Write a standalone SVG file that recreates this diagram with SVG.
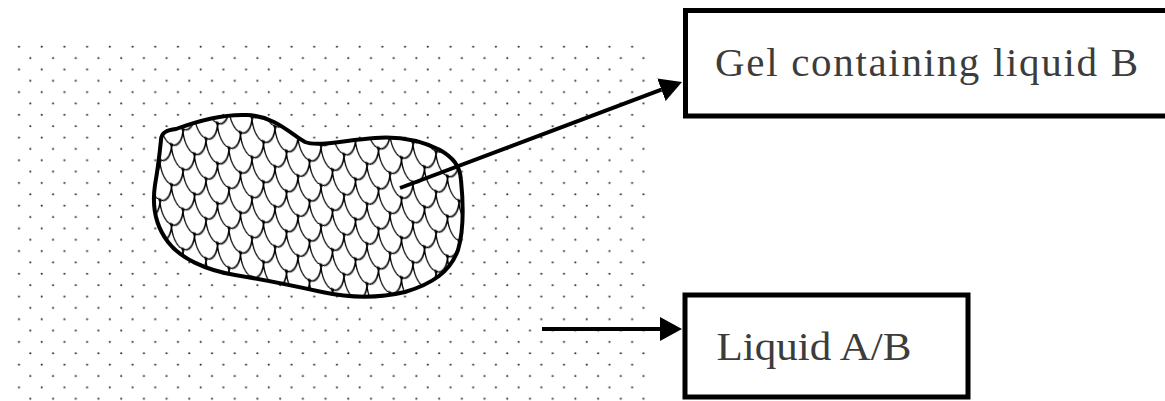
<svg xmlns="http://www.w3.org/2000/svg" width="1165" height="401" viewBox="0 0 1165 401">
  <style>
    .box { fill: #ffffff; stroke: #000000; stroke-width: 5; }
    .label { font-family: "Liberation Serif", "DejaVu Serif", serif; font-size: 41px; fill: #3c3c3c; }
    .conn { stroke: #000000; stroke-width: 4; fill: none; }
  </style>
  <defs>
    <pattern id="dots" patternUnits="userSpaceOnUse" x="13.32" y="41.02" width="22.71" height="22.71">
      <circle cx="5.68" cy="5.68" r="1.1" fill="#333333"/>
      <circle cx="17.03" cy="17.03" r="1.1" fill="#333333"/>
    </pattern>
    <pattern id="scales" patternUnits="userSpaceOnUse" width="23" height="40" patternTransform="translate(160 120) skewY(22)">
      <path d="M0,0 A11.5,20 0 0 0 23,0 M-11.5,20 A11.5,20 0 0 0 11.5,20 M11.5,20 A11.5,20 0 0 0 34.5,20 M0,40 A11.5,20 0 0 0 23,40" fill="none" stroke="#000000" stroke-width="1.4"/>
      <rect x="10" y="18.5" width="3" height="3" fill="#000000"/>
      <rect x="-1.5" y="38.5" width="3" height="3" fill="#000000"/>
      <rect x="21.5" y="38.5" width="3" height="3" fill="#000000"/>
      <rect x="-1.5" y="-1.5" width="3" height="3" fill="#000000"/>
      <rect x="21.5" y="-1.5" width="3" height="3" fill="#000000"/>
    </pattern>
    <marker id="arrow" viewBox="0 0 22 24" refX="0" refY="12" markerWidth="22" markerHeight="24" markerUnits="userSpaceOnUse" orient="auto">
      <path d="M0,0 L22,12 L0,24 Z" fill="#000000"/>
    </marker>
  </defs>

  <g id="background">
    <rect x="15" y="44" width="632" height="357" fill="url(#dots)"/>
  </g>

  <g id="gel">
    <path d="M161,140 C161,132 168,130 176,129 C200,120 225,114 247,115 C275,116 292,135 305,142 C318,147 345,140 375,138 C400,136 420,140 440,150 C452,157 460,165 461,180 C463,200 464,230 458,250 C450,272 432,284 405,292 C380,298 350,298 322,292 C290,285 260,279 235,275 C205,270 180,258 168,242 C155,225 152,205 155,185 C158,168 160,150 161,140 Z" fill="#ffffff"/>
    <path d="M161,140 C161,132 168,130 176,129 C200,120 225,114 247,115 C275,116 292,135 305,142 C318,147 345,140 375,138 C400,136 420,140 440,150 C452,157 460,165 461,180 C463,200 464,230 458,250 C450,272 432,284 405,292 C380,298 350,298 322,292 C290,285 260,279 235,275 C205,270 180,258 168,242 C155,225 152,205 155,185 C158,168 160,150 161,140 Z" fill="url(#scales)" stroke="#000000" stroke-width="4"/>
  </g>

  <g id="connectors">
    <line class="conn" x1="400" y1="188" x2="661.4" y2="89.7" marker-end="url(#arrow)"/>
    <line class="conn" x1="542" y1="329" x2="660" y2="329" marker-end="url(#arrow)"/>
  </g>

  <g id="node-gel-label">
    <rect class="box" x="685.5" y="10.5" width="490" height="105.5"/>
    <text class="label" x="715" y="76" textLength="423" lengthAdjust="spacing">Gel containing liquid B</text>
  </g>

  <g id="node-liquid-label">
    <rect class="box" x="685" y="295" width="283" height="102"/>
    <text class="label" x="716.5" y="360" textLength="195" lengthAdjust="spacingAndGlyphs">Liquid A/B</text>
  </g>
</svg>
